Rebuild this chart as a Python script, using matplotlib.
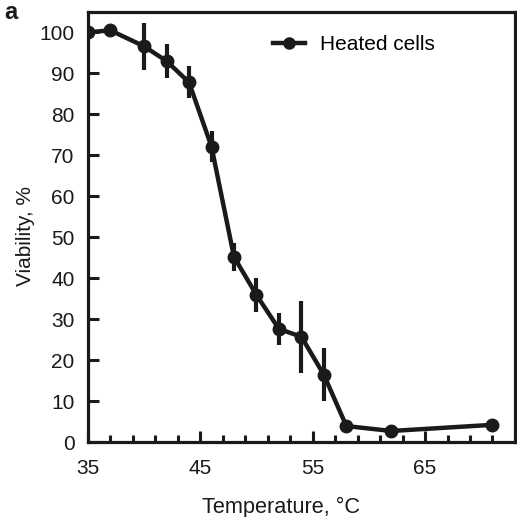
import matplotlib
matplotlib.use("Agg")
import matplotlib.pyplot as plt
from matplotlib.ticker import MultipleLocator, FixedLocator
from matplotlib.lines import Line2D

plt.rcParams['font.family'] = ['Liberation Sans', 'DejaVu Sans']

temperature = [35, 37, 40, 42, 44, 46, 48, 50, 52, 54, 56, 58, 62, 71]
viability = [100, 100.5, 96.6, 93, 87.8, 72.1, 45.2, 35.9, 27.6, 25.7, 16.4, 3.9, 2.7, 4.2]
errors = [0, 0, 5.8, 4.2, 3.9, 3.8, 3.4, 4.1, 3.9, 8.8, 6.5, 0, 0, 0]
xticks = [35, 45, 55, 65]

color = '#1a1a1a'
fig = plt.figure(figsize=(5.17, 5.17), dpi=100)
ax = fig.add_axes([0.170, 0.145, 0.826, 0.832])

ax.errorbar(temperature, viability, yerr=errors, color=color, lw=3.2,
            marker='o', ms=9, elinewidth=3, capsize=0, zorder=3)

ax.set_xlim(35, 73)
ax.set_ylim(0, 105)
ax.xaxis.set_major_locator(FixedLocator(xticks))
ax.xaxis.set_minor_locator(MultipleLocator(2, offset=1))
ax.yaxis.set_major_locator(MultipleLocator(10))
ax.tick_params(which='major', direction='in', length=8, width=2.2, labelsize=15,
               colors=color)
ax.tick_params(which='minor', direction='in', length=5, width=2.2, colors=color)
ax.tick_params(axis='x', pad=12.5)
ax.tick_params(axis='y', pad=9.5)
for s in ax.spines.values():
    s.set_linewidth(2.3)
    s.set_color(color)

ax.set_xlabel('Temperature, °C', fontsize=15.7, color=color)
ax.set_ylabel('Viability, %', fontsize=15, color=color)
ax.xaxis.set_label_coords(0.452, -0.128)
ax.yaxis.set_label_coords(-0.124, 0.479)

handle = Line2D([], [], color=color, lw=3.2, marker='o', ms=8)
ax.legend([handle], ['Heated cells'], loc='upper left', bbox_to_anchor=(0.39, 0.99),
          frameon=False, fontsize=15, handlelength=1.55, numpoints=1,
          handletextpad=0.7)

fig.text(0.008, 0.975, 'a', fontsize=17, fontweight='bold', color=color, va='center')

fig.savefig('out.png', dpi=100)
